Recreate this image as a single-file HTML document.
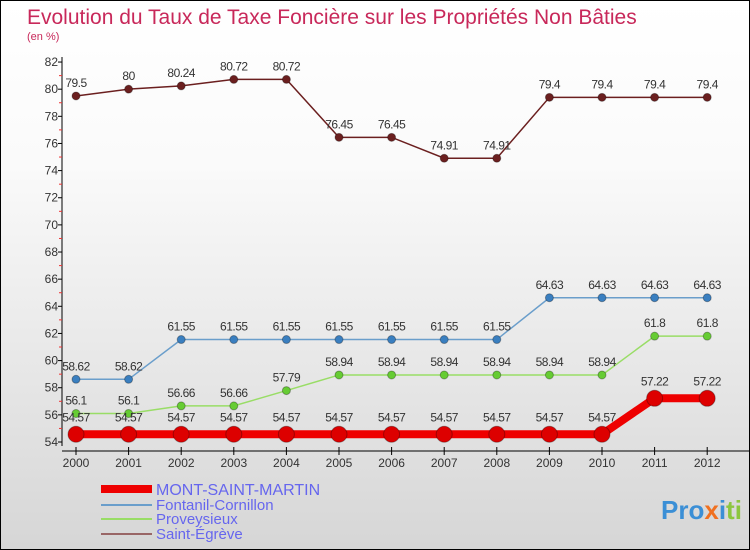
<!DOCTYPE html>
<html><head><meta charset="utf-8"><style>
body{margin:0}
#wrap{position:relative;width:748px;height:548px;border:1px solid #000;background:linear-gradient(#fff,#fafafa 30%,#d6d6d6);font-family:"Liberation Sans",sans-serif;overflow:hidden}
text{font-family:"Liberation Sans",sans-serif}
</style></head><body>
<div id="wrap">
<svg id="svg" width="748" height="548">
<text x="26" y="23" font-size="21" fill="#c8285a">Evolution du Taux de Taxe Foncière sur les Propriétés Non Bâties</text>
<text x="26" y="39" font-size="11" fill="#c8285a">(en %)</text>
<g id="axes"></g><g id="series"></g>
<text x="660" y="518" font-size="26" font-weight="bold" fill="#e8a020"><tspan fill="#3b8fd6">Pro</tspan><tspan fill="#f07020">x</tspan><tspan fill="#3b8fd6">i</tspan><tspan fill="#8cc63f">ti</tspan></text>
</svg>
</div>
<script>
const years=[2000,2001,2002,2003,2004,2005,2006,2007,2008,2009,2010,2011,2012];
const yTicks=[54,56,58,60,62,64,66,68,70,72,74,76,78,80,82];
const montSaintMartin=[54.57,54.57,54.57,54.57,54.57,54.57,54.57,54.57,54.57,54.57,54.57,57.22,57.22];
const fontanil=[58.62,58.62,61.55,61.55,61.55,61.55,61.55,61.55,61.55,64.63,64.63,64.63,64.63];
const proveysieux=[56.1,56.1,56.66,56.66,57.79,58.94,58.94,58.94,58.94,58.94,58.94,61.8,61.8];
const saintEgreve=[79.5,80,80.24,80.72,80.72,76.45,76.45,74.91,74.91,79.4,79.4,79.4,79.4];
const names=["MONT-SAINT-MARTIN","Fontanil-Cornillon","Proveysieux","Saint-Égrève"];
const NS="http://www.w3.org/2000/svg";
const X=i=>75+i*52.6, Y=v=>441-(v-54)*13.57;
function mk(t,a,p){const e=document.createElementNS(NS,t);for(const k in a)e.setAttribute(k,a[k]);p.appendChild(e);return e;}
const ax=document.getElementById('axes');
let l=mk('line',{x1:61,y1:56,x2:61,y2:445,stroke:'#000'},ax);


l=mk('line',{x1:61,y1:450,x2:748,y2:450,stroke:'#000'},ax);


yTicks.forEach(v=>{
 mk('line',{x1:57,x2:61,y1:Y(v),y2:Y(v),stroke:'#000'},ax);
 if(v<82)mk('line',{x1:58,x2:61,y1:Y(v+1),y2:Y(v+1),stroke:'#e33'},ax);
 const t=mk('text',{x:57,y:Y(v)+4,'font-size':12,'text-anchor':'end',fill:'#333'},ax);
 
 
 t.textContent=v;
});
years.forEach((yr,i)=>{
 mk('line',{x1:X(i),x2:X(i),y1:446,y2:454,stroke:'#000'},ax);
 const t=mk('text',{x:X(i),y:466,'font-size':12,'text-anchor':'middle',fill:'#333'},ax);
 
 
 t.textContent=yr;
});
const sg=document.getElementById('series');
const specs=[[saintEgreve,'#6b1f1f','#6b1f1f',1.5,4,'saint-egreve'],[fontanil,'#6a9ecb','#3a7fc0',1.5,4,'fontanil-cornillon'],[proveysieux,'#99dd66','#66cc33',1.5,4,'proveysieux'],[montSaintMartin,'#ee0000','#dd0000',8,8,'mont-saint-martin']];
specs.forEach(([d,c,fc,w,r,n])=>{
 const p=mk('polyline',{points:d.map((v,i)=>X(i)+','+Y(v)).join(' '),fill:'none',stroke:c,'stroke-width':w},sg);
 
 
 d.forEach((v,i)=>{
  const cc=mk('circle',{cx:X(i),cy:Y(v),r:r,fill:fc,stroke:'rgba(0,0,0,0.3)'},sg);
  
  
  const t=mk('text',{x:X(i),y:Y(v)-(r>5?13:9),'font-size':12,'text-anchor':'middle',fill:'#333','letter-spacing':'-0.5'},sg);
  
  
  t.textContent=v;
 });
});
const legCols=['#ee0000','#6a9ecb','#99dd66','#996666'],legW=[8,2,2,2],legY=[493,509,523,538];
names.forEach((n,i)=>{
 const g=mk('g',{},sg);
 
 
 mk('line',{x1:100,x2:151,y1:legY[i]-5,y2:legY[i]-5,stroke:legCols[i],'stroke-width':legW[i]},g);
 const t=mk('text',{x:155,y:legY[i]+(i==0?1:0),'font-size':i==0?16:15,fill:'#6666ee'},g);
 t.textContent=n;
});
</script>
</body></html>
